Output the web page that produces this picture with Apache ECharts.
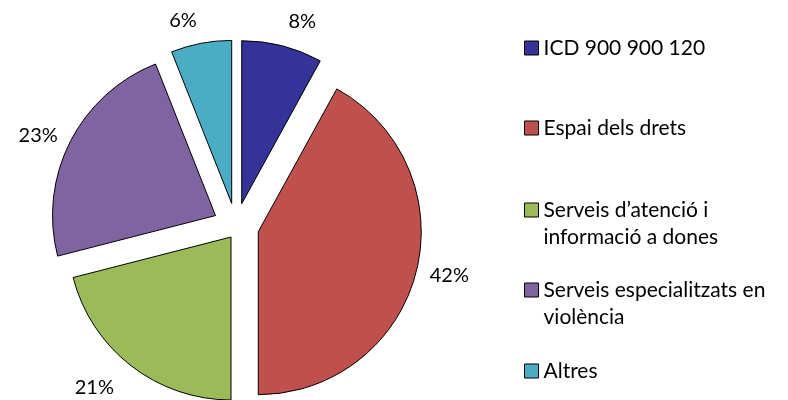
<!DOCTYPE html>
<html><head><meta charset="utf-8">
<script src="https://cdn.jsdelivr.net/npm/echarts@6/dist/echarts.min.js"></script>
<style>html,body{margin:0;padding:0;background:#fff}#c{width:788px;height:400px}</style>
</head><body><div id="c"></div>
<script>
var categories = ['ICD 900 900 120', 'Espai dels drets', 'Serveis d\u2019atenci\u00f3 i informaci\u00f3 a dones', 'Serveis especialitzats en viol\u00e8ncia', 'Altres'];
var legendLabels = ['ICD 900 900 120', 'Espai dels drets', 'Serveis d\u2019atenci\u00f3 i\ninformaci\u00f3 a dones', 'Serveis especialitzats en\nviol\u00e8ncia', 'Altres'];
var values = [8, 42, 21, 23, 6];
var colors = ['#333399', '#C0504D', '#9BBB59', '#8064A2', '#4BACC6'];

var FONT = 'Lato';
var LH = 27;
var iconCenters = [48, 128, 210, 290, 371];
var labelLens = [25, 14, 28, 14, 23];
var lessExploded = 2; // the green slice sits closer to the centre

var legends = categories.map(function (name, i) {
  var twoLine = legendLabels[i].indexOf('\n') >= 0;
  return {
    data: [{ name: name, itemStyle: { color: colors[i], borderColor: '#000', borderWidth: 1 } }],
    orient: 'vertical',
    left: 524,
    top: twoLine ? iconCenters[i] - 1.5 * LH : iconCenters[i] - 0.5 * LH,
    padding: 0,
    selectedMode: false,
    icon: 'rect',
    itemWidth: 14,
    itemHeight: 14,
    itemGap: 0,
    formatter: function () { return twoLine ? '\n' + legendLabels[i] : legendLabels[i]; },
    textStyle: { fontFamily: FONT, fontSize: 21, color: '#000', lineHeight: LH }
  };
});

function makeData(showFn) {
  return categories.map(function (n, i) {
    var vis = showFn(i);
    return {
      name: n, value: values[i], selected: true,
      itemStyle: vis ? { color: colors[i], borderColor: '#000', borderWidth: 1 }
                     : { color: 'rgba(0,0,0,0)', borderWidth: 0 },
      label: { show: vis },
      labelLine: { show: false, length: labelLens[i], length2: 0 }
    };
  });
}

var common = {
  type: 'pie',
  radius: [0, 163],
  startAngle: 90,
  clockwise: true,
  selectedMode: 'multiple',
  avoidLabelOverlap: false,
  emphasis: { disabled: true },
  label: {
    position: 'outside',
    formatter: '{c}%',
    distanceToLabelLine: 0,
    fontFamily: FONT, fontSize: 20, color: '#000'
  }
};

var chart = echarts.init(document.getElementById('c'), null, { renderer: 'canvas' });
chart.setOption({
  animation: false,
  legend: legends,
  series: [
    Object.assign({}, common, {
      center: [236, 226],
      selectedOffset: 23,
      data: makeData(function (i) { return i !== lessExploded; })
    }),
    Object.assign({}, common, {
      center: [231, 237],
      selectedOffset: 0,
      silent: true,
      data: makeData(function (i) { return i === lessExploded; })
    })
  ]
});
</script>
</body></html>
